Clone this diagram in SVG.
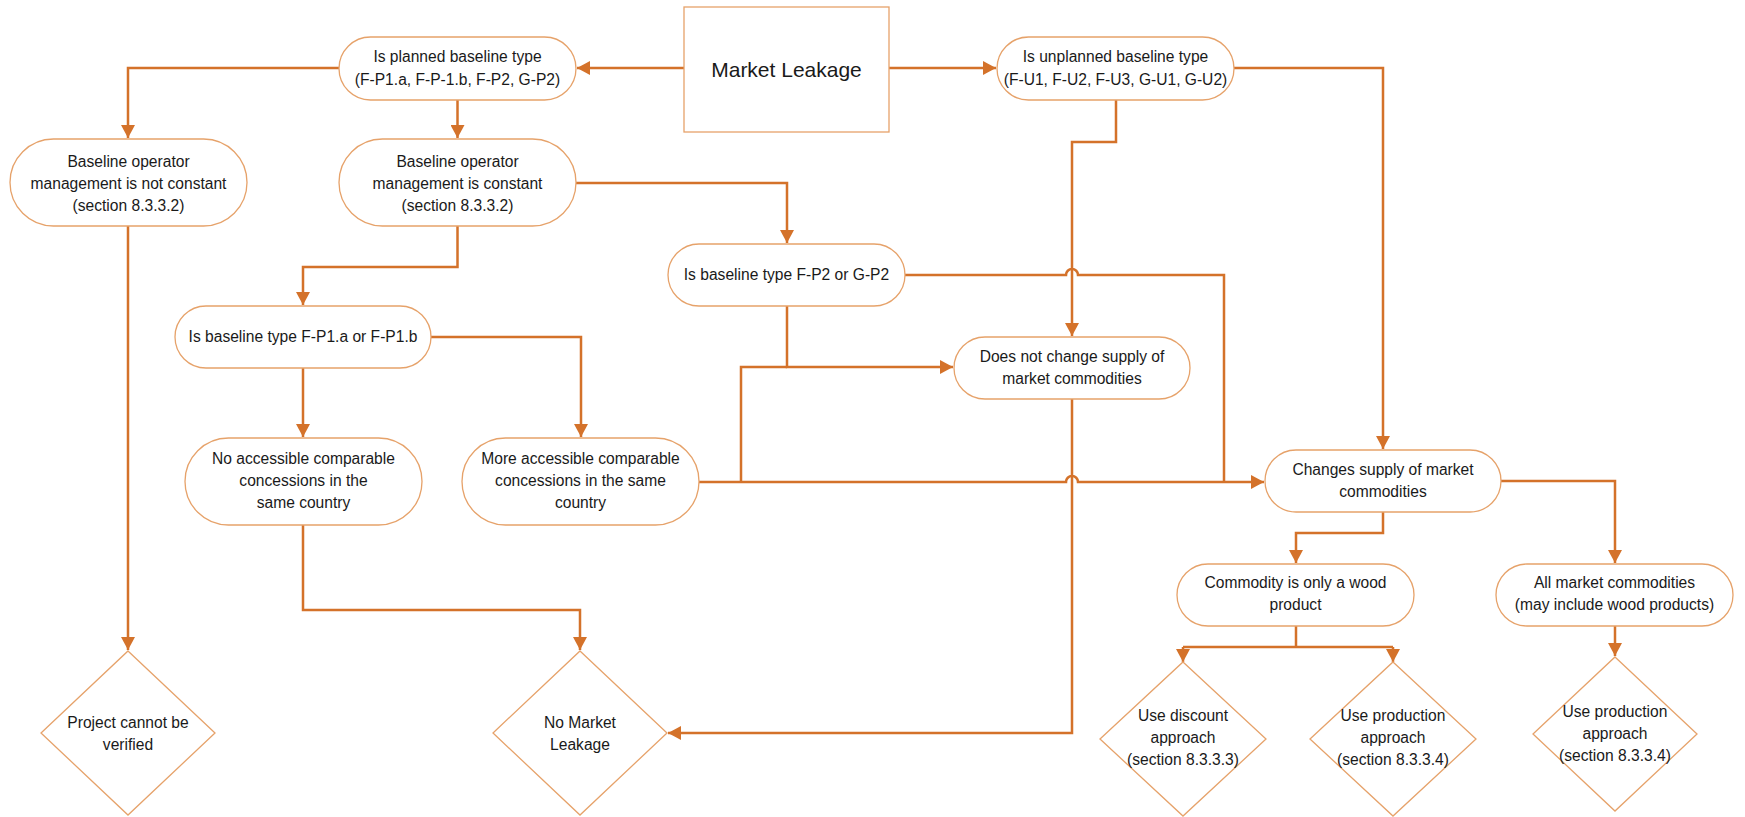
<svg xmlns="http://www.w3.org/2000/svg" width="1745" height="817" viewBox="0 0 1745 817">
<style>
.n{fill:#fff;stroke:#E6A26A;stroke-width:1.3}
.t{font-family:"Liberation Sans",Arial,sans-serif;font-size:15.6px;fill:#1a1a1a;text-anchor:middle}
.big{font-size:21px}
.c{fill:none;stroke:#D4722A;stroke-width:2.5}
</style>
<defs>
<marker id="ah" markerUnits="userSpaceOnUse" markerWidth="14" markerHeight="14" refX="13" refY="7" orient="auto">
<path d="M0,0 L13,7 L0,14 z" fill="#D4722A"/>
</marker>
</defs>
<rect width="1745" height="817" fill="#fff"/>
<g id="connectors">
<path class="c" d="M684,68 H577" marker-end="url(#ah)"/>
<path class="c" d="M889,68 H996" marker-end="url(#ah)"/>
<path class="c" d="M339,68 H128 V138" marker-end="url(#ah)"/>
<path class="c" d="M457.5,100 V138" marker-end="url(#ah)"/>
<path class="c" d="M128,226 V650" marker-end="url(#ah)"/>
<path class="c" d="M457.5,226 V267 H303 V305" marker-end="url(#ah)"/>
<path class="c" d="M576,183 H787 V243" marker-end="url(#ah)"/>
<path class="c" d="M431,337 H581 V437" marker-end="url(#ah)"/>
<path class="c" d="M303,368 V437" marker-end="url(#ah)"/>
<path class="c" d="M303,525 V610 H580 V650" marker-end="url(#ah)"/>
<path class="c" d="M787,306 V367 H953" marker-end="url(#ah)"/>
<path class="c" d="M741,482 V367 H787"/>
<path class="c" d="M699,482 H1066 A6,6 0 0 1 1078,482 H1264" marker-end="url(#ah)"/>
<path class="c" d="M905,275 H1066 A6,6 0 0 1 1078,275 H1224 V482"/>
<path class="c" d="M1116,100 V142 H1072 V336" marker-end="url(#ah)"/>
<path class="c" d="M1234,68 H1383 V449" marker-end="url(#ah)"/>
<path class="c" d="M1072,399 V733 H668" marker-end="url(#ah)"/>
<path class="c" d="M1383,512 V533 H1296 V563" marker-end="url(#ah)"/>
<path class="c" d="M1501,481 H1615 V563" marker-end="url(#ah)"/>
<path class="c" d="M1296,626 V647"/>
<path class="c" d="M1183,647 H1393"/>
<path class="c" d="M1183,647 V662" marker-end="url(#ah)"/>
<path class="c" d="M1393,647 V662" marker-end="url(#ah)"/>
<path class="c" d="M1615,626 V656" marker-end="url(#ah)"/>
</g>
<g id="market">
<rect class="n" x="684" y="7" width="205" height="125"/>
<text class="t big" x="786.5" y="77">Market Leakage</text>
</g>
<g id="planned">
<rect class="n" x="339" y="37" width="237" height="63" rx="31.5"/>
<text class="t" x="457.5" y="62">Is planned baseline type</text>
<text class="t" x="457.5" y="85">(F-P1.a, F-P-1.b,  F-P2, G-P2)</text>
</g>
<g id="unplanned">
<rect class="n" x="997" y="37" width="237" height="63" rx="31.5"/>
<text class="t" x="1115.5" y="62">Is unplanned baseline type</text>
<text class="t" x="1115.5" y="85">(F-U1, F-U2, F-U3, G-U1, G-U2)</text>
</g>
<g id="notconstant">
<rect class="n" x="10" y="139" width="237" height="87" rx="43.5"/>
<text class="t" x="128.5" y="167">Baseline operator</text>
<text class="t" x="128.5" y="189">management is not constant</text>
<text class="t" x="128.5" y="211">(section 8.3.3.2)</text>
</g>
<g id="constant">
<rect class="n" x="339" y="139" width="237" height="87" rx="43.5"/>
<text class="t" x="457.5" y="167">Baseline operator</text>
<text class="t" x="457.5" y="189">management is constant</text>
<text class="t" x="457.5" y="211">(section 8.3.3.2)</text>
</g>
<g id="fp1">
<rect class="n" x="175" y="306" width="256" height="62" rx="31"/>
<text class="t" x="303" y="342">Is baseline type F-P1.a or F-P1.b</text>
</g>
<g id="fp2">
<rect class="n" x="668" y="244" width="237" height="62" rx="31"/>
<text class="t" x="786.5" y="280">Is baseline type F-P2 or G-P2</text>
</g>
<g id="nochange">
<rect class="n" x="954" y="337" width="236" height="62" rx="31"/>
<text class="t" x="1072" y="362">Does not change supply of</text>
<text class="t" x="1072" y="384">market commodities</text>
</g>
<g id="noaccess">
<rect class="n" x="185" y="438" width="237" height="87" rx="43.5"/>
<text class="t" x="303.5" y="464">No accessible comparable</text>
<text class="t" x="303.5" y="486">concessions in the</text>
<text class="t" x="303.5" y="508">same country</text>
</g>
<g id="moreaccess">
<rect class="n" x="462" y="438" width="237" height="87" rx="43.5"/>
<text class="t" x="580.5" y="464">More accessible comparable</text>
<text class="t" x="580.5" y="486">concessions in the same</text>
<text class="t" x="580.5" y="508">country</text>
</g>
<g id="changes">
<rect class="n" x="1265" y="450" width="236" height="62" rx="31"/>
<text class="t" x="1383" y="475">Changes supply of market</text>
<text class="t" x="1383" y="497">commodities</text>
</g>
<g id="wood">
<rect class="n" x="1177" y="564" width="237" height="62" rx="31"/>
<text class="t" x="1295.5" y="588">Commodity is only a wood</text>
<text class="t" x="1295.5" y="610">product</text>
</g>
<g id="allmarket">
<rect class="n" x="1496" y="564" width="237" height="62" rx="31"/>
<text class="t" x="1614.5" y="588">All market commodities</text>
<text class="t" x="1614.5" y="610">(may include wood products)</text>
</g>
<g id="notverified">
<path class="n" d="M128,651 L215,733 L128,815 L41,733 Z"/>
<text class="t" x="128" y="728">Project cannot be</text>
<text class="t" x="128" y="750">verified</text>
</g>
<g id="nomarketleakage">
<path class="n" d="M580,651 L667,733 L580,815 L493,733 Z"/>
<text class="t" x="580" y="728">No Market</text>
<text class="t" x="580" y="750">Leakage</text>
</g>
<g id="discount">
<path class="n" d="M1183,662 L1266,739 L1183,816 L1100,739 Z"/>
<text class="t" x="1183" y="721">Use discount</text>
<text class="t" x="1183" y="743">approach</text>
<text class="t" x="1183" y="765">(section 8.3.3.3)</text>
</g>
<g id="production1">
<path class="n" d="M1393,662 L1476,739 L1393,816 L1310,739 Z"/>
<text class="t" x="1393" y="721">Use production</text>
<text class="t" x="1393" y="743">approach</text>
<text class="t" x="1393" y="765">(section 8.3.3.4)</text>
</g>
<g id="production2">
<path class="n" d="M1615,657 L1697,734 L1615,811 L1533,734 Z"/>
<text class="t" x="1615" y="717">Use production</text>
<text class="t" x="1615" y="739">approach</text>
<text class="t" x="1615" y="761">(section 8.3.3.4)</text>
</g>
</svg>
